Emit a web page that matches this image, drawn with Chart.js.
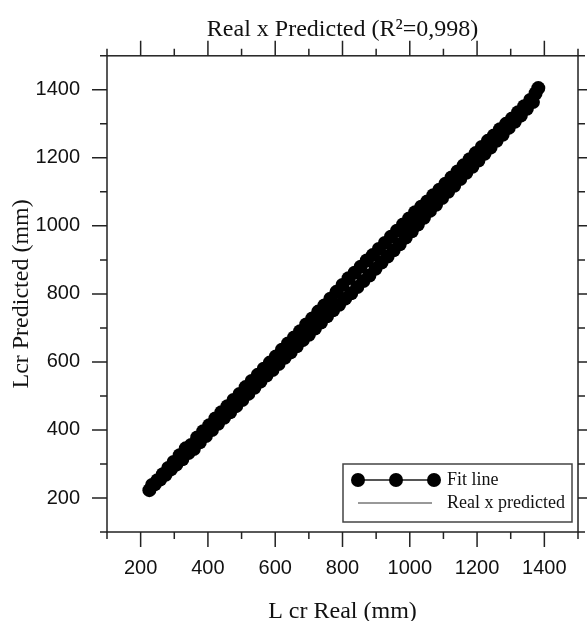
<!DOCTYPE html>
<html>
<head>
<meta charset="utf-8">
<script src="https://cdn.jsdelivr.net/npm/chart.js@4.4.1/dist/chart.umd.min.js"></script>
<style>
  html, body { margin: 0; padding: 0; background: #fff; }
  #wrap { width: 587px; height: 621px; position: relative; }
</style>
</head>
<body>
<div id="wrap"><canvas id="chart"></canvas></div>
<script>
// Lcr real vs predicted (mm)
var realValues = [
	226, 234, 242, 250, 258, 266, 274, 282, 290, 298,
	306, 316, 324, 334, 342, 350, 358, 368, 376, 386,
	394, 404, 412, 422, 430, 440, 448, 458, 466, 476,
	484, 494, 502, 512, 520, 530, 538, 548, 556, 566,
	574, 584, 592, 602, 610, 620, 628, 638, 646, 656,
	664, 674, 682, 692, 700, 710, 718, 728, 736, 746,
	754, 764, 772, 782, 790, 800, 808, 818, 826, 836,
	844, 854, 862, 872, 880, 890, 898, 908, 916, 926,
	934, 944, 952, 962, 970, 980, 988, 998, 1006, 1016,
	1024, 1034, 1042, 1052, 1060, 1070, 1078, 1088, 1096, 1106,
	1114, 1124, 1132, 1142, 1150, 1160, 1168, 1178, 1186, 1196,
	1204, 1214, 1222, 1232, 1240, 1250, 1258, 1268, 1276, 1286,
	1294, 1304, 1312, 1322, 1330, 1340, 1348, 1358, 1366, 1374,
	1382
];
var predictedValues = [
	223, 238, 240, 252, 254, 270, 268, 288, 284, 306,
	298, 326, 314, 346, 332, 356, 344, 378, 364, 396,
	382, 414, 400, 434, 418, 452, 436, 470, 452, 488,
	470, 506, 488, 526, 506, 544, 524, 562, 542, 580,
	560, 598, 576, 616, 594, 636, 612, 654, 628, 672,
	646, 690, 664, 710, 680, 728, 698, 748, 716, 766,
	734, 786, 752, 806, 768, 826, 786, 846, 802, 862,
	820, 880, 838, 898, 854, 914, 874, 932, 892, 950,
	910, 968, 928, 986, 946, 1004, 966, 1022, 984, 1040,
	1004, 1056, 1024, 1072, 1044, 1090, 1062, 1106, 1082, 1124,
	1100, 1142, 1118, 1160, 1138, 1178, 1156, 1196, 1174, 1214,
	1192, 1232, 1212, 1250, 1230, 1266, 1250, 1284, 1268, 1300,
	1288, 1316, 1306, 1334, 1324, 1352, 1344, 1370, 1364, 1390,
	1405
];
// the thin "Real x predicted" line
var lineReal = [226, 1382];
var linePredicted = [223, 1400];

var axisMin = 100;
var axisMax = 1500;
var tickStep = 100;
var labelTicks = [200, 400, 600, 800, 1000, 1200, 1400];

var legendItems = ["Fit line", "Real x predicted"];

var points = realValues.map(function (v, i) {
	return { x: v, y: predictedValues[i] };
});
var linePoints = lineReal.map(function (v, i) {
	return { x: v, y: linePredicted[i] };
});

function tickLabel(value) {
	return labelTicks.indexOf(value) >= 0 ? String(value) : "";
}

// box, ticks on all four sides, and the boxed legend
var framePlugin = {
	id: "frame",
	afterDraw: function (chart) {
		var ctx = chart.ctx;
		var area = chart.chartArea;
		var xs = chart.scales.x;
		var ys = chart.scales.y;
		ctx.save();
		ctx.strokeStyle = "#222";
		ctx.lineWidth = 1.5;
		ctx.strokeRect(area.left, area.top, area.right - area.left, area.bottom - area.top);

		ctx.beginPath();
		for (var v = axisMin; v <= axisMax; v += tickStep) {
			var len = v % 200 === 0 ? 15 : 7;
			var px = xs.getPixelForValue(v);
			ctx.moveTo(px, area.bottom);
			ctx.lineTo(px, area.bottom + len);
			ctx.moveTo(px, area.top);
			ctx.lineTo(px, area.top - len);
			var py = ys.getPixelForValue(v);
			ctx.moveTo(area.left, py);
			ctx.lineTo(area.left - len, py);
			ctx.moveTo(area.right, py);
			ctx.lineTo(area.right + len, py);
		}
		ctx.stroke();

		// legend
		var bx = 343, by = 464, bw = 229, bh = 58;
		ctx.strokeStyle = "#444";
		ctx.lineWidth = 1.5;
		ctx.strokeRect(bx, by, bw, bh);

		ctx.strokeStyle = "#555";
		ctx.lineWidth = 2;
		ctx.beginPath();
		ctx.moveTo(358, 480);
		ctx.lineTo(434, 480);
		ctx.stroke();
		ctx.fillStyle = "#000";
		[358, 396, 434].forEach(function (cx) {
			ctx.beginPath();
			ctx.arc(cx, 480, 7, 0, Math.PI * 2);
			ctx.fill();
		});
		ctx.strokeStyle = "#333";
		ctx.lineWidth = 1;
		ctx.beginPath();
		ctx.moveTo(358, 503);
		ctx.lineTo(432, 503);
		ctx.stroke();

		ctx.fillStyle = "#111";
		ctx.font = "18px 'Liberation Serif', 'Times New Roman', serif";
		ctx.textBaseline = "alphabetic";
		ctx.textAlign = "left";
		ctx.fillText(legendItems[0], 447, 485);
		ctx.fillText(legendItems[1], 447, 508);
		ctx.restore();
	}
};

var tickFont = { family: "'Liberation Sans', Arial, sans-serif", size: 20 };
var serifFont = "'Liberation Serif', 'Times New Roman', serif";

var chart = new Chart(document.getElementById("chart"), {
	type: "scatter",
	data: {
		datasets: [
			{
				label: legendItems[0],
				data: points,
				backgroundColor: "#000",
				borderWidth: 0,
				pointRadius: 7,
				pointHoverRadius: 7
			},
			{
				label: legendItems[1],
				type: "line",
				data: linePoints,
				borderColor: "#000",
				borderWidth: 1,
				pointRadius: 0,
				fill: false
			}
		]
	},
	options: {
		responsive: true,
		maintainAspectRatio: false,
		animation: false,
		layout: { padding: { top: 0, right: 3, bottom: 0, left: 0 } },
		plugins: {
			legend: { display: false },
			tooltip: { enabled: false },
			title: {
				display: true,
				fullSize: false,
				text: "Real x Predicted (R\u00b2=0,998)",
				color: "#111",
				font: { family: serifFont, size: 24, weight: "normal", lineHeight: 1.2 },
				padding: { top: 15, bottom: 12 }
			}
		},
		scales: {
			x: {
				type: "linear",
				position: "bottom",
				min: axisMin,
				max: axisMax,
				afterFit: function (scale) { scale.height = 89; },
				grid: { drawOnChartArea: false, tickLength: 15, color: "rgba(0,0,0,0)" },
				border: { display: false },
				ticks: {
					stepSize: tickStep,
					autoSkip: false,
					maxRotation: 0,
					padding: 9,
					color: "#111",
					font: tickFont,
					callback: tickLabel
				},
				title: {
					display: true,
					text: "L cr Real (mm)",
					color: "#111",
					font: { family: serifFont, size: 24, lineHeight: 0.8 },
					padding: { top: 0, bottom: 0 }
				}
			},
			y: {
				type: "linear",
				min: axisMin,
				max: axisMax,
				afterFit: function (scale) { scale.width = 107; },
				grid: { drawOnChartArea: false, tickLength: 15, color: "rgba(0,0,0,0)" },
				border: { display: false },
				ticks: {
					stepSize: tickStep,
					autoSkip: false,
					padding: 12,
					color: "#111",
					font: tickFont,
					callback: tickLabel
				},
				title: {
					display: true,
					text: "Lcr Predicted (mm)",
					color: "#111",
					font: { family: serifFont, size: 24, lineHeight: 1 },
					padding: { top: 10, bottom: 0 }
				}
			}
		}
	},
	plugins: [framePlugin]
});
</script>
</body>
</html>
